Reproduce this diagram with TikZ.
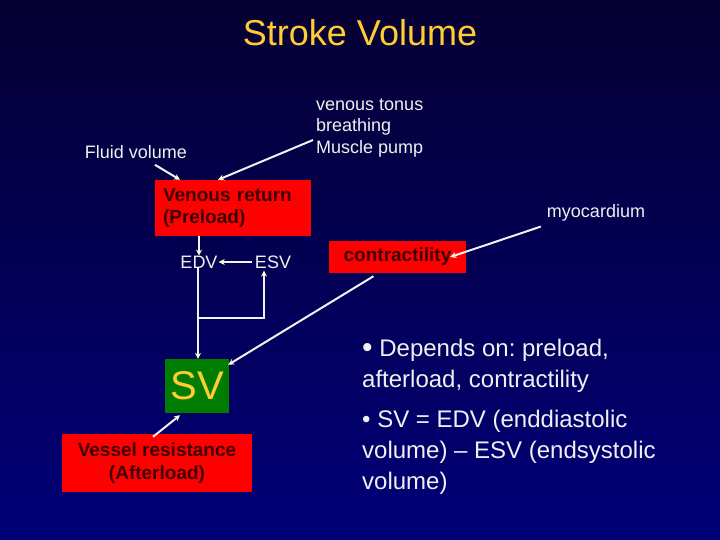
\documentclass[tikz,border=0pt]{standalone}
\usepackage{fontspec}
\setmainfont{Liberation Sans}
\usetikzlibrary{arrows.meta,positioning}
\definecolor{slidetop}{RGB}{6,0,50}
\definecolor{slidebottom}{RGB}{0,0,120}
\definecolor{titlegold}{RGB}{255,204,51}
\definecolor{boxred}{RGB}{255,0,0}
\definecolor{boxtext}{RGB}{60,0,0}
\definecolor{svgreen}{RGB}{0,125,0}
\definecolor{tipcream}{RGB}{255,250,200}

\begin{document}
\frenchspacing
\begin{tikzpicture}[
    x=1bp, y=-1bp,
    lbl/.style={font=\fontsize{18bp}{21.5bp}\selectfont, text=white!94!black, inner sep=0pt},
    redbox/.style={fill=boxred, text=boxtext, inner sep=0pt,
        font=\fontsize{19bp}{22.5bp}\selectfont\bfseries},
    bullet/.style={font=\fontsize{24bp}{31bp}\selectfont, text=white!94!black,
        inner sep=0pt, align=left, anchor=west},
    arr/.style={draw=white!95!black, line width=2bp,
        -{Stealth[length=6bp, width=6bp, color=tipcream]}}
]
% slide background
\shade[top color=slidetop, bottom color=slidebottom] (0,0) rectangle (720,540);
\useasboundingbox (0,0) rectangle (720,540);

\node[font=\fontsize{36bp}{43bp}\selectfont, text=titlegold] (title) at (360,33) {Stroke Volume};

\node[lbl, align=left, anchor=west] (tonus) at (316,128) {venous tonus\\breathing\\Muscle pump};
\node[lbl] (fluid) at (136,152) {Fluid volume};
\node[lbl] (myo) at (596,213) {myocardium};

\node[redbox, text width=140bp, inner xsep=8bp, minimum height=56bp, align=left]
    (preload) at (233,208) {Venous return\\(Preload)};
\node[lbl] (edv) at (199,262) {EDV};
\node[lbl] (esv) at (273,262) {ESV};
\node[redbox, minimum width=137bp, minimum height=32bp] (contr) at (397.5,257) {contractility};

\node[fill=svgreen, text=titlegold, minimum width=64bp, minimum height=54bp, inner sep=0pt,
    font=\fontsize{40bp}{48bp}\selectfont] (sv) at (197,386) {SV};
\node[redbox, minimum width=190bp, minimum height=58bp, align=center]
    (afterload) at (157,463) {Vessel resistance\\(Afterload)};

\node[bullet] (dep) at (362,365.5) {\fontsize{30bp}{31bp}\selectfont\raisebox{-1bp}{•}\fontsize{24bp}{31bp}\selectfont{} Depends on: preload,\\afterload, contractility};
\node[bullet] (eq) at (362,452.5) {• SV = EDV (enddiastolic\\volume) – ESV (endsystolic\\volume)};

% connectors
\draw[arr] ([xshift=19bp,yshift=-6bp]fluid.south) -- ([xshift=-53bp]preload.north);
\draw[arr] ([xshift=-3bp,yshift=-12bp]tonus.west) -- ([xshift=-15bp]preload.north);
\draw[arr] (preload.south -| edv.north) -- (edv.north);
\draw[arr] ([xshift=-3bp]esv.west) -- ([xshift=1bp]edv.east);
\draw[arr] ([xshift=-1bp]edv.south) -- ([xshift=1bp]sv.north);
\coordinate (split) at (198,318);
\draw[arr] (split) -| ([xshift=-9bp,yshift=-2bp]esv.south);
\draw[arr] ([xshift=-24bp,yshift=-3bp]contr.south) -- ([xshift=-1bp,yshift=-6bp]sv.north east);
\draw[arr] ([xshift=-6bp,yshift=-5bp]myo.south west) -- ([xshift=-16bp]contr.east);
\draw[arr] ([xshift=-4bp,yshift=-3bp]afterload.north) -- ([xshift=-17bp,yshift=-2bp]sv.south);
\end{tikzpicture}
\end{document}
